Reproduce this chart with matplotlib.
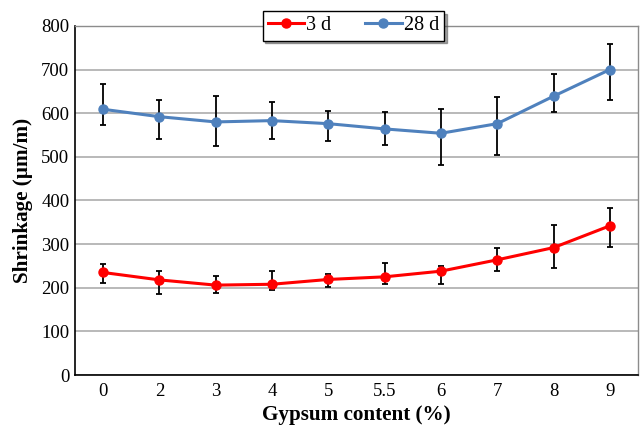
import matplotlib
matplotlib.use("Agg")
import matplotlib.pyplot as plt
from matplotlib.lines import Line2D
import numpy as np

plt.rcParams["font.family"] = ["Liberation Serif", "DejaVu Serif"]

gypsum = ["0", "2", "3", "4", "5", "5.5", "6", "7", "8", "9"]

d3_mean = [235, 218, 206, 208, 219, 225, 238, 264, 292, 342]
d3_low = [210, 186, 188, 195, 201, 209, 208, 239, 245, 294]
d3_high = [254, 238, 226, 238, 232, 256, 250, 292, 343, 382]

d28_mean = [609, 592, 580, 583, 576, 564, 554, 576, 639, 700]
d28_low = [573, 541, 524, 542, 537, 527, 482, 504, 603, 631]
d28_high = [667, 631, 639, 625, 605, 602, 609, 637, 689, 758]

RED = "#FF0000"
BLUE = "#4F81BD"


def yerr(mean, low, high):
    m = np.array(mean)
    return [m - np.array(low), np.array(high) - m]


fig = plt.figure(figsize=(6.4, 4.25), dpi=100)
ax = fig.add_axes([0.117, 0.1176, 0.88, 0.8214])

x = np.arange(len(gypsum))
ax.errorbar(x, d3_mean, yerr=yerr(d3_mean, d3_low, d3_high), color=RED,
            marker="o", markersize=6.5, linewidth=2.2, ecolor="black",
            elinewidth=1.3, capsize=2.5, capthick=1.3, zorder=3)
ax.errorbar(x, d28_mean, yerr=yerr(d28_mean, d28_low, d28_high), color=BLUE,
            marker="o", markersize=6.5, linewidth=2.2, ecolor="black",
            elinewidth=1.3, capsize=2.5, capthick=1.3, zorder=3)

ax.set_xlim(-0.5, len(gypsum) - 0.5)
ax.set_ylim(0, 800)
ax.set_xticks(x)
ax.set_xticklabels(gypsum)
ax.set_yticks(range(0, 801, 100))
ax.tick_params(axis="both", length=0, labelsize=13.5)
ax.tick_params(axis="y", pad=4)
ax.tick_params(axis="x", pad=6)
ax.yaxis.grid(True, color="#A6A6A6", linewidth=1.1, zorder=0)
ax.set_axisbelow(True)

for side in ("top", "right"):
    ax.spines[side].set_color("#8C8C8C")
    ax.spines[side].set_linewidth(1.0)
for side in ("left", "bottom"):
    ax.spines[side].set_color("black")
    ax.spines[side].set_linewidth(1.2)

ax.set_xlabel("Gypsum content (%)", fontsize=15.2, fontweight="bold", labelpad=3)
ax.set_ylabel("Shrinkage (\u00b5m/m)", fontsize=15.2, fontweight="bold", labelpad=6)

handles = [
    Line2D([], [], color=RED, marker="o", markersize=6.5, linewidth=2.2),
    Line2D([], [], color=BLUE, marker="o", markersize=6.5, linewidth=2.2),
]
leg = fig.legend(handles, ["3 d", "28 d"], loc="center",
                 bbox_to_anchor=(0.552, 0.939), ncol=2,
                 fontsize=14.5, frameon=True, fancybox=False, shadow=True,
                 handlelength=1.8, columnspacing=1.7, handletextpad=0.1,
                 borderpad=0.25, borderaxespad=0)
leg.get_frame().set_edgecolor("black")
leg.get_frame().set_linewidth(1.0)

fig.savefig("out.png", dpi=100)
